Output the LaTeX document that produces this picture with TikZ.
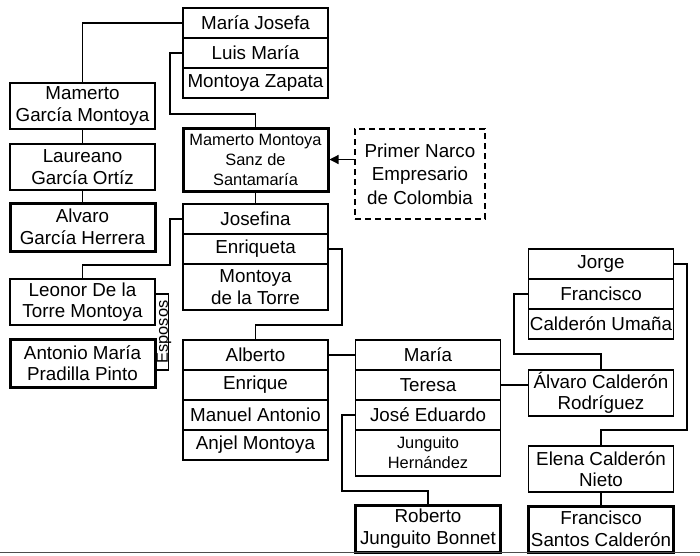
\documentclass[tikz,border=0pt]{standalone}
\usepackage{fontspec}
\setmainfont{Liberation Sans}
\usetikzlibrary{arrows.meta}

\begin{document}
\begin{tikzpicture}[x=1pt, y=-1pt,
  persona/.style={draw, line width=1.2pt, minimum width=145pt, minimum height=30pt, inner sep=0pt, align=center, font=\fontsize{18.8}{21.5}\selectfont},
  alto/.style={minimum height=46pt},
  chico/.style={font=\fontsize{16.4}{20}\selectfont},
  clave/.style={line width=3pt},
  nota/.style={draw, dash pattern=on 6pt off 4pt, line width=1.4pt, minimum width=130pt, minimum height=90pt, inner sep=0pt, align=center, font=\fontsize{18.8}{23.5}\selectfont},
  enlace/.style={line width=1.2pt},
  flecha/.style={line width=1.2pt, -{Triangle[length=9pt, width=9pt]}}]
\useasboundingbox (0,0) rectangle (700,555);

% Montoya Zapata
\node[persona] (mj) at (255.5,23) {María Josefa};
\node[persona] (lm) at (255.5,53) {Luis María};
\node[persona] (mz) at (255.5,83) {Montoya Zapata};

% Rama García
\node[persona, alto] (mgm) at (82.5,106) {Mamerto\\García Montoya};
\node[persona, alto] (lgo) at (82.5,167) {Laureano\\García Ortíz};
\node[persona, clave, minimum height=48pt] (agh) at (82.5,227) {Alvaro\\García Herrera};

% Mamerto y nota
\node[persona, clave, chico, minimum height=63pt] (mms) at (255.5,159.5) {Mamerto Montoya\\Sanz de\\Santamaría};
\node[nota] (narco) at (420,174) {Primer Narco\\Empresario\\de Colombia};

% Montoya de la Torre
\node[persona] (jos) at (255.5,219) {Josefina};
\node[persona] (enr) at (255.5,249) {Enriqueta};
\node[persona, alto] (mdt) at (255.5,287) {Montoya\\de la Torre};

% Esposos
\node[persona, alto] (ldt) at (82.5,302) {Leonor De la\\Torre Montoya};
\node[persona, clave, minimum height=48pt] (amp) at (82.5,363) {Antonio María\\Pradilla Pinto};
\node[chico, rotate=90, inner sep=0pt] (esp) at (164,332) {Esposos};

% Anjel Montoya
\node[persona] (alb) at (255.5,355) {Alberto};
\node[persona] (enq) at (255.5,385) {Enrique};
\node[persona] (man) at (255.5,415) {Manuel Antonio};
\node[persona] (anj) at (255.5,445) {Anjel Montoya};

% Junguito
\node[persona] (mar) at (428,355) {María};
\node[persona] (ter) at (428,385) {Teresa};
\node[persona] (jed) at (428,415) {José Eduardo};
\node[persona, alto, chico] (jhe) at (428,453) {Junguito\\Hernández};
\node[persona, clave, minimum height=47pt] (rjb) at (428,528.5) {Roberto\\Junguito Bonnet};

% Calderón
\node[persona] (jor) at (601,264) {Jorge};
\node[persona] (fra) at (601,294) {Francisco};
\node[persona] (cum) at (601,324) {Calderón Umaña};
\node[persona, alto] (acr) at (601,393) {Álvaro Calderón\\Rodríguez};
\node[persona, alto] (ecn) at (601,469) {Elena Calderón\\Nieto};
\node[persona, clave, alto] (fsc) at (601,529) {Francisco\\Santos Calderón};

% Lineas
\draw[enlace] (mj.west) -| (mgm.north);
\draw[enlace] (mgm.south) -- (lgo.north);
\draw[enlace] (lgo.south) -- (agh.north);
\draw[enlace] (lm.west) -| (170,114) -| (mms.north);
\draw[enlace] (mms.south) -- (jos.north);
\draw[flecha] (narco.west |- mms.east) -- (mms.east);
\draw[enlace] (jos.west) -| (170,265) -| (ldt.north);
\draw[enlace] ([yshift=8pt]ldt.east) -- ++(13,0) |- ([yshift=-7pt]amp.east);
\draw[enlace] (enr.east) -| (342,325) -| (alb.north);
\draw[enlace] (alb.east) -- (mar.west);
\draw[enlace] (ter.east) -- (ter.east -| acr.west);
\draw[enlace] (jed.west) -| (342,491) -| (rjb.north);
\draw[enlace] (fra.west) -| (514,354) -| (acr.north);
\draw[enlace] (jor.east) -| (687,430) -| (ecn.north);
\draw[enlace] (ecn.south) -- (fsc.north);

% Borde inferior
\draw[line width=1.6pt, black!70] (0,552.5) -- (700,552.5);
\end{tikzpicture}
\end{document}
